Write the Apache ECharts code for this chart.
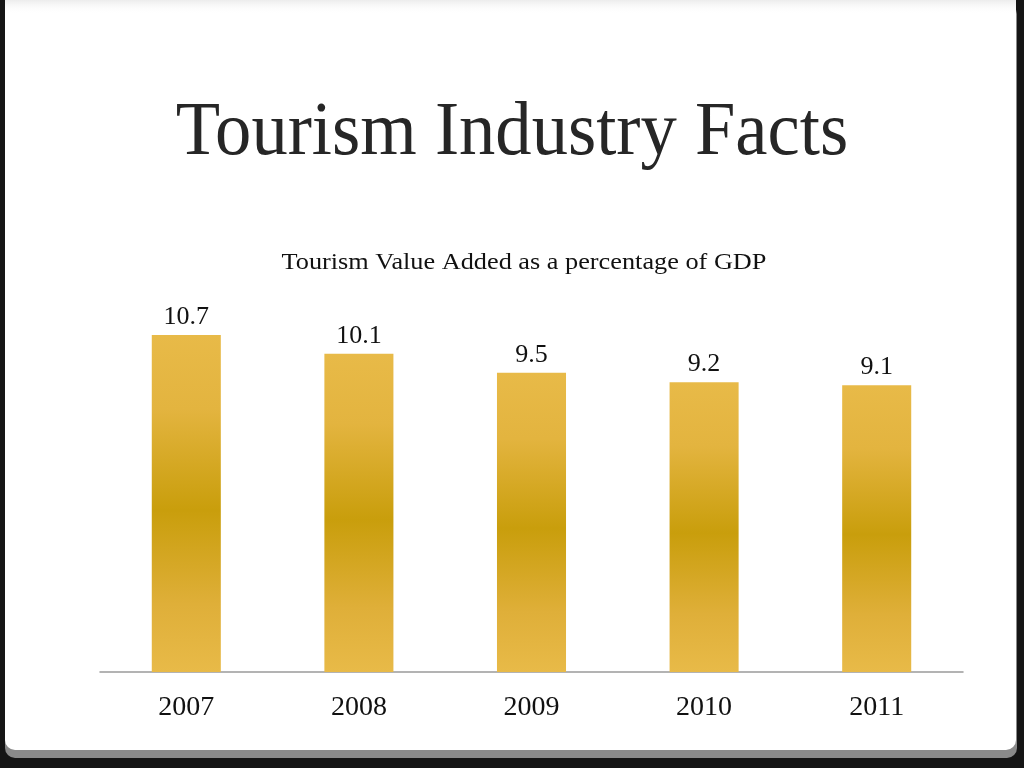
<!DOCTYPE html>
<html><head><meta charset="utf-8">
<script src="https://cdn.jsdelivr.net/npm/echarts@6/dist/echarts.min.js"></script>
<style>html,body{margin:0;padding:0;background:#151515;}#c{width:1024px;height:768px;}</style>
</head><body><div id="c"></div>
<script>
const categories = ['2007', '2008', '2009', '2010', '2011'];
const values = [10.7, 10.1, 9.5, 9.2, 9.1];
const titleText = 'Tourism Industry Facts';
const subtitleText = 'Tourism Value Added as a percentage of GDP';

const chart = echarts.init(document.getElementById('c'), null, {renderer: 'canvas'});
const serif = '"Liberation Serif", "DejaVu Serif", serif';
chart.setOption({
  backgroundColor: '#151515',
  animation: false,
  graphic: [
    {type: 'rect', z: -10, shape: {x: 5, y: 4, width: 1012, height: 754, r: 10}, style: {fill: '#8a8a8a'}},
    {type: 'rect', z: -9, shape: {x: 5, y: -10, width: 1011, height: 760, r: 10}, style: {fill: '#ffffff'}},
    {type: 'rect', z: -8, shape: {x: 5, y: 0, width: 1011, height: 14},
      style: {fill: new echarts.graphic.LinearGradient(0, 0, 0, 1, [
        {offset: 0, color: '#ececec'}, {offset: 1, color: 'rgba(255,255,255,0)'}])}},
    {type: 'text', x: 512, y: 96, scaleX: 0.955, z: 10,
      style: {text: titleText, font: '76px ' + serif, fill: '#262626', textAlign: 'center', textVerticalAlign: 'top'}},
    {type: 'text', x: 524, y: 251, scaleX: 1.095, z: 10,
      style: {text: subtitleText, font: '24px ' + serif, fill: '#111', textAlign: 'center', textVerticalAlign: 'top'}}
  ],
  grid: {left: 100, right: 61, top: 294, bottom: 96},
  xAxis: {
    type: 'category', data: categories,
    axisLine: {lineStyle: {color: '#9a9a9a', width: 1.5}},
    axisTick: {show: false},
    axisLabel: {fontFamily: serif, fontSize: 28, color: '#111', margin: 22}
  },
  yAxis: {type: 'value', min: 0, max: 12, show: false, splitLine: {show: false}},
  series: [{
    type: 'bar', data: values, barWidth: '40%',
    itemStyle: {color: new echarts.graphic.LinearGradient(0, 0, 0, 1, [
      {offset: 0, color: '#e8ba48'}, {offset: 0.22, color: '#e3b43f'},
      {offset: 0.52, color: '#c99e0c'}, {offset: 0.8, color: '#dfaf39'},
      {offset: 1, color: '#e8ba48'}])},
    label: {show: true, position: 'top', distance: 5, fontFamily: serif, fontSize: 26, color: '#111'}
  }]
});
</script></body></html>
